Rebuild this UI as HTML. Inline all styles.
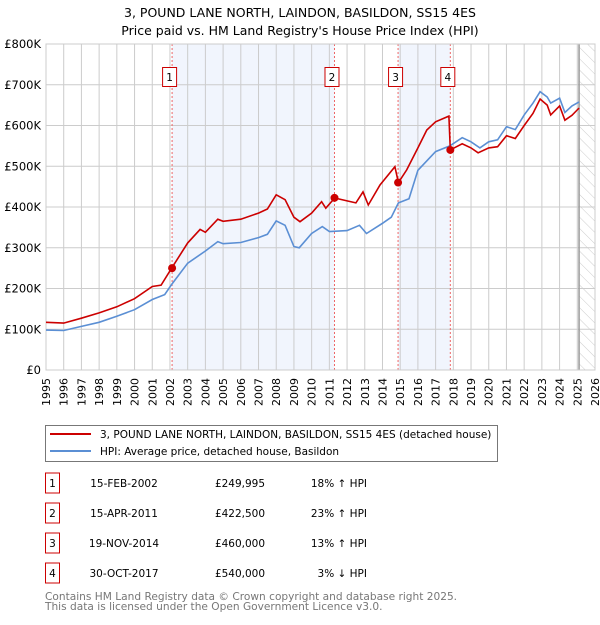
<!DOCTYPE html>
<html><head><meta charset="utf-8"><style>
body{margin:0;background:#fff;}
svg text{font-family:"DejaVu Sans","Liberation Sans",sans-serif;}
</style></head><body>
<svg id="chart" width="600" height="620" viewBox="0 0 600 620" xmlns="http://www.w3.org/2000/svg">
<text x="300" y="17" text-anchor="middle" font-size="12.5">3, POUND LANE NORTH, LAINDON, BASILDON, SS15 4ES</text>
<text x="300" y="35" text-anchor="middle" font-size="12.5">Price paid vs. HM Land Registry's House Price Index (HPI)</text>
<g id="plot"></g>
<g>
<rect x="45.5" y="425.5" width="452" height="36" fill="#fff" stroke="#777"/>
<line x1="50" y1="434" x2="91" y2="434" stroke="#cc0000" stroke-width="2"/>
<text x="100" y="438" font-size="10.5">3, POUND LANE NORTH, LAINDON, BASILDON, SS15 4ES (detached house)</text>
<line x1="50" y1="451" x2="91" y2="451" stroke="#5b8fd4" stroke-width="2"/>
<text x="100" y="455" font-size="10.5">HPI: Average price, detached house, Basildon</text>
</g>
<g id="table"></g>
<text x="45" y="600" font-size="10.6" fill="#777">Contains HM Land Registry data © Crown copyright and database right 2025.</text>
<text x="45" y="610" font-size="10.6" fill="#777">This data is licensed under the Open Government Licence v3.0.</text>
</svg>
<script>
const hpiYears=[1995,1996,1997,1998,1999,2000,2001,2001.7,2002.1,2003,2004,2004.7,2005,2006,2007,2007.5,2008,2008.5,2009,2009.3,2010,2010.6,2011,2012,2012.7,2013.1,2014,2014.5,2014.9,2015.5,2016,2017,2017.8,2018.5,2019,2019.5,2020,2020.5,2021,2021.5,2022,2022.5,2022.9,2023.3,2023.5,2024,2024.3,2024.7,2025.1];
const hpiValues=[98,97,107,117,132,148,173,185,210,262,292,315,310,313,325,333,366,355,303,300,335,352,340,342,355,335,360,375,410,420,490,536,550,570,560,545,560,565,597,590,626,655,683,670,655,667,632,648,658];
const ppYears=[1995,1996,1997,1998,1999,2000,2001,2001.5,2002.1,2003,2003.7,2004,2004.7,2005,2006,2007,2007.5,2008,2008.5,2009,2009.34,2010,2010.56,2010.8,2011.3,2012,2012.5,2012.9,2013.2,2013.86,2014.7,2014.9,2015.37,2016,2016.5,2017,2017.75,2017.83,2018.5,2019,2019.4,2020,2020.5,2021,2021.5,2022,2022.5,2022.9,2023.3,2023.5,2024,2024.3,2024.7,2025.1];
const ppValues=[117,115,127,140,155,175,205,208,250,312,345,338,370,365,370,385,395,430,418,375,364,385,413,397,422,415,410,437,405,454,499,460,491,545,589,609,623,540,555,545,533,545,548,575,568,600,630,665,650,626,648,613,625,643];
const saleYears=[2002.12,2011.29,2014.88,2017.83];
const saleValues=[249.995,422.5,460,540];
const saleLabels=["1","2","3","4"];
const saleDates=["15-FEB-2002","15-APR-2011","19-NOV-2014","30-OCT-2017"];
const salePrices=["£249,995","£422,500","£460,000","£540,000"];
const saleHpi=["18% ↑ HPI","23% ↑ HPI","13% ↑ HPI","3% ↓ HPI"];
const yTicks=[0,100,200,300,400,500,600,700,800];
const yTickLabels=["£0","£100K","£200K","£300K","£400K","£500K","£600K","£700K","£800K"];
const xTicks=[1995,1996,1997,1998,1999,2000,2001,2002,2003,2004,2005,2006,2007,2008,2009,2010,2011,2012,2013,2014,2015,2016,2017,2018,2019,2020,2021,2022,2023,2024,2025,2026];

const NS="http://www.w3.org/2000/svg";
const L=46,R=595,T=44,B=370;
const X=y=>L+(y-1995)/(2026-1995)*(R-L);
const Y=v=>B-v/800*(B-T);
function mk(tag,attrs,parent,txt){const e=document.createElementNS(NS,tag);for(const k in attrs)e.setAttribute(k,attrs[k]);if(txt!==undefined)e.textContent=txt;parent.appendChild(e);return e;}
const plot=document.getElementById('plot');
for(let i=0;i<4;i+=2){
  const r=mk('rect',{x:X(saleYears[i]),y:T,width:X(saleYears[i+1])-X(saleYears[i]),height:B-T,fill:'#f1f5fd'},plot);
  
  
}
const defs=mk('defs',{},plot);
const pat=mk('pattern',{id:'hatch',width:8,height:8,patternUnits:'userSpaceOnUse',patternTransform:'rotate(-45)'},defs);
mk('line',{x1:0,y1:0,x2:0,y2:8,stroke:'#ccc','stroke-width':1},pat);
const hx=X(2025.1);
const hr=mk('rect',{x:hx,y:T,width:R-hx,height:B-T,fill:'url(#hatch)'},plot);


xTicks.forEach(t=>{const g=mk('line',{x1:X(t),y1:T,x2:X(t),y2:B,stroke:'#ccc','stroke-width':1},plot);


const tx=mk('text',{x:0,y:0,'font-size':11,'text-anchor':'end',transform:`translate(${X(t)+4},${B+8}) rotate(-90)`},plot,String(t));

});
yTicks.forEach((t,i)=>{const g=mk('line',{x1:L,y1:Y(t),x2:R,y2:Y(t),stroke:'#ccc','stroke-width':1},plot);


const tx=mk('text',{x:L-5,y:Y(t)+4,'font-size':11.5,'text-anchor':'end'},plot,yTickLabels[i]);

});
const vl=mk('line',{x1:hx,y1:T,x2:hx,y2:B,stroke:'#999','stroke-width':1.5},plot);


saleYears.forEach((s,i)=>{const d=mk('line',{x1:X(s),y1:T,x2:X(s),y2:B,stroke:'#e66','stroke-width':1,'stroke-dasharray':'2,2'},plot);


const bx=mk('rect',{x:X(s)-9.5,y:67.5,width:14,height:19,fill:'#fff',stroke:'#cc0000','stroke-width':1},plot);


const bt=mk('text',{x:X(s)-2.5,y:81,'font-size':10.5,'text-anchor':'middle'},plot,saleLabels[i]);

});
const frame=mk('rect',{x:L,y:T,width:R-L,height:B-T,fill:'none',stroke:'#ccc'},plot);


function pts(xs,vs){return xs.map((x,i)=>X(x).toFixed(1)+','+Y(vs[i]).toFixed(1)).join(' ');}
const hl=mk('polyline',{points:pts(hpiYears,hpiValues),fill:'none',stroke:'#5b8fd4','stroke-width':1.6},plot);


const pl=mk('polyline',{points:pts(ppYears,ppValues),fill:'none',stroke:'#cc0000','stroke-width':1.6},plot);


saleYears.forEach((s,i)=>{const c=mk('circle',{cx:X(s),cy:Y(saleValues[i]),r:4,fill:'#cc0000'},plot);

});
const tb=document.getElementById('table');
saleLabels.forEach((lab,i)=>{const cy=483+i*30;
const b=mk('rect',{x:45.5,y:cy-10,width:14,height:20,fill:'#fff',stroke:'#cc0000'},tb);


const t1=mk('text',{x:52.5,y:cy+4,'font-size':10.5,'text-anchor':'middle'},tb,lab);


const t2=mk('text',{x:124,y:cy+4,'font-size':10.5,'text-anchor':'middle'},tb,saleDates[i]);


const t3=mk('text',{x:240,y:cy+4,'font-size':10.5,'text-anchor':'middle'},tb,salePrices[i]);


const t4=mk('text',{x:367,y:cy+4,'font-size':10.5,'text-anchor':'end'},tb,saleHpi[i]);

});
</script>
</body></html>
